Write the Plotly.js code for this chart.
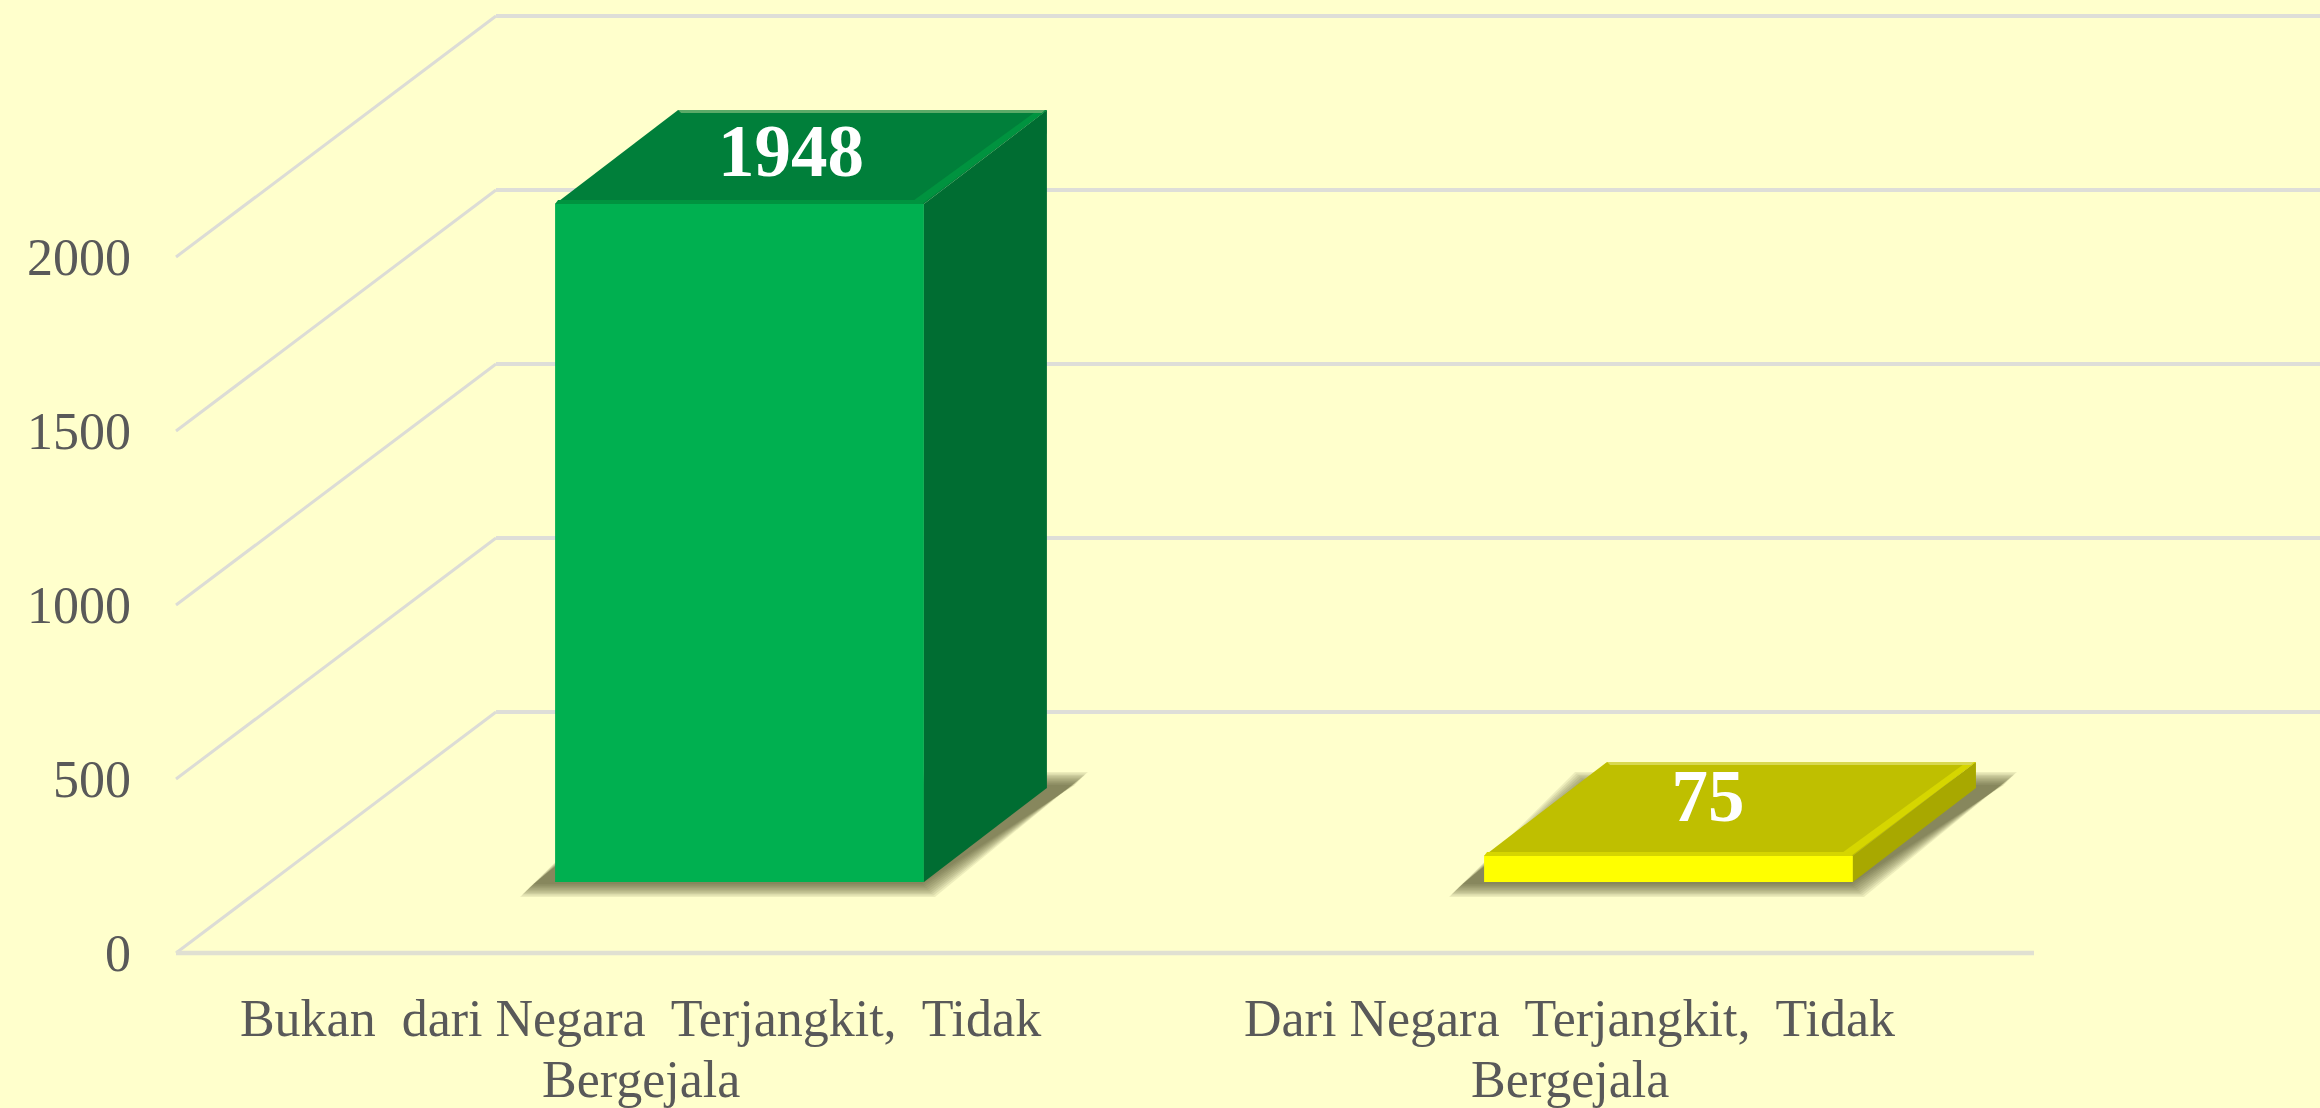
<!DOCTYPE html>
<html>
<head>
<meta charset="utf-8">
<script src="https://cdn.plot.ly/plotly-3.0.1.min.js"></script>
<style>html,body{margin:0;padding:0;background:#FFFFCC;overflow:hidden}#chart{width:2320px;height:1108px}</style>
</head>
<body>
<div id="chart"></div>
<script>
const categoryLine1 = ['Bukan  dari Negara  Terjangkit,  Tidak', 'Dari Negara  Terjangkit,  Tidak'];
const categoryLine2 = ['Bergejala', 'Bergejala'];
const values = [1948, 75];
const valueLabels = ['1948', '75'];
const yTicks = [0, 500, 1000, 1500, 2000];
const frontColors = ['#00B050', '#FFFF00'];
const topColors = ['#007F3A', '#BFBF00'];
const sideColors = ['#006D32', '#A8A800'];
const bevelColors = ['#00933F', '#D6D600'];
const edgeColors = ['#5BAA68', '#D8D850'];

const W = 2320, H = 1108, L = 166, B = 135, pxX = 929, pxY = 0.348;
const floorStart = -0.5;
const xStart = floorStart - 10 / pxX;
const xRange = [xStart, xStart + (W - L) / pxX];
const yRange = [-20 / pxY, 953 / pxY];
const dx = p => p / pxX, dy = p => p / pxY;

const floorDX = dx(320), floorDY = dy(241);
const barW = 0.397, barOX = dx(99), barOY = dy(71), depthX = dx(123), depthY = dy(94);

const shapes = [];
const gridLine = (x0, y0, x1, y1, w, c) => shapes.push({
  type: 'line', layer: 'below', xref: 'x', yref: 'y', x0, y0, x1, y1, line: {color: c, width: w}
});
yTicks.forEach(v => {
  gridLine(floorStart, v, floorStart + floorDX, v + floorDY, 3, '#DCDCD6');
  gridLine(floorStart + floorDX, v + floorDY, xRange[1], v + floorDY, 4, '#DEDED8');
});
gridLine(floorStart, 0, 1.5, 0, 4.5, '#E0E0D2');

// soft shadow under each bar: nested translucent copies of the footprint
values.forEach((v, i) => {
  const xl = i + barOX - barW / 2, xr = i + barOX + barW / 2;
  const n = 10;
  for (let k = 0; k < n; k++) {
    const e = 7 - k * 1.45;
    const pts = [
      [xl + dx(-28 - e), barOY + dy(-8 - e)],
      [xr + dx(4 + e), barOY + dy(-8 - e)],
      [xr + depthX + dx(34 + e), barOY + depthY + dy(9 + e)],
      [xl + depthX + dx(-25 - e), barOY + depthY + dy(9 + e)]
    ];
    const path = pts.map((p, j) => (j ? 'L' : 'M') + p[0] + ',' + p[1]).join(' ') + ' Z';
    shapes.push({type: 'path', layer: 'below', xref: 'x', yref: 'y', path,
      fillcolor: 'rgba(80,80,40,0.1)', line: {width: 0}});
  }
});

const traces = [];
const poly = (pts, color) => traces.push({
  type: 'scatter', mode: 'lines', x: pts.map(p => p[0]), y: pts.map(p => p[1]),
  fill: 'toself', fillcolor: color, line: {width: 0, color}, hoverinfo: 'skip', showlegend: false
});

values.forEach((v, i) => {
  const xl = i + barOX - barW / 2, xr = i + barOX + barW / 2;
  const base = barOY, top = base + v;
  // side face
  poly([[xr, base], [xr + depthX, base + depthY], [xr + depthX, top + depthY], [xr, top], [xr, base]], sideColors[i]);
  // top face
  poly([[xl, top], [xr, top], [xr + depthX, top + depthY], [xl + depthX, top + depthY], [xl, top]], topColors[i]);
  // bevel strip on the right of the top face
  poly([[xr - dx(2), top], [xr + depthX, top + depthY], [xr + depthX - dx(9), top + depthY], [xr - dx(11), top + dy(3)], [xr - dx(2), top]], bevelColors[i]);
  // bevel strip along the front of the top face
  poly([[xl, top], [xr, top], [xr - dx(5), top + dy(4)], [xl + dx(3), top + dy(4)], [xl, top]], bevelColors[i]);
  // light back edge
  poly([[xl + depthX, top + depthY], [xr + depthX - dx(2), top + depthY], [xr + depthX - dx(5), top + depthY - dy(3)], [xl + depthX + dx(3), top + depthY - dy(3)], [xl + depthX, top + depthY]], edgeColors[i]);
});

// front faces
traces.push({
  type: 'bar', x: values.map((v, i) => i + barOX), y: values, base: values.map(() => barOY),
  width: barW, marker: {color: frontColors, line: {width: 0}}, hoverinfo: 'skip', showlegend: false
});

// value labels, on the top faces
const labelLift = [46, 53];
const labelShift = [-10, -22];
traces.push({
  type: 'scatter', mode: 'text',
  x: values.map((v, i) => i + barOX + depthX / 2 + dx(labelShift[i])),
  y: values.map((v, i) => barOY + v + dy(labelLift[i])),
  text: valueLabels, textposition: 'middle center',
  textfont: {family: 'Liberation Serif', size: 73, color: '#FFFFFF', weight: 700},
  cliponaxis: false, hoverinfo: 'skip', showlegend: false
});

const layout = {
  width: W, height: H, autosize: false,
  margin: {l: L, r: 0, t: 0, b: B, pad: 0},
  paper_bgcolor: '#FFFFCC', plot_bgcolor: '#FFFFCC',
  showlegend: false, barmode: 'overlay',
  shapes,
  font: {family: 'Liberation Serif', color: '#595959'},
  annotations: categoryLine2.map((t, i) => ({
    text: t, x: i, y: yRange[0], xref: 'x', yref: 'y', xanchor: 'center', yanchor: 'middle',
    yshift: -106, showarrow: false,
    font: {family: 'Liberation Serif', size: 52, color: '#595959'}
  })),
  xaxis: {
    type: 'linear', range: xRange, showgrid: false, zeroline: false, showline: false, fixedrange: true,
    tickmode: 'array', tickvals: values.map((v, i) => i), ticktext: categoryLine1,
    ticks: '', tickangle: 0, ticklabelstandoff: 10,
    tickfont: {family: 'Liberation Serif', size: 52, color: '#595959'}
  },
  yaxis: {
    type: 'linear', range: yRange, showgrid: false, zeroline: false, showline: false, fixedrange: true,
    tickmode: 'array', tickvals: yTicks, ticktext: yTicks.map(String),
    ticks: '', ticklabelstandoff: 34,
    tickfont: {family: 'Liberation Serif', size: 52, color: '#595959'}
  }
};
Plotly.newPlot('chart', traces, layout, {displayModeBar: false, staticPlot: true});
</script>
</body>
</html>
